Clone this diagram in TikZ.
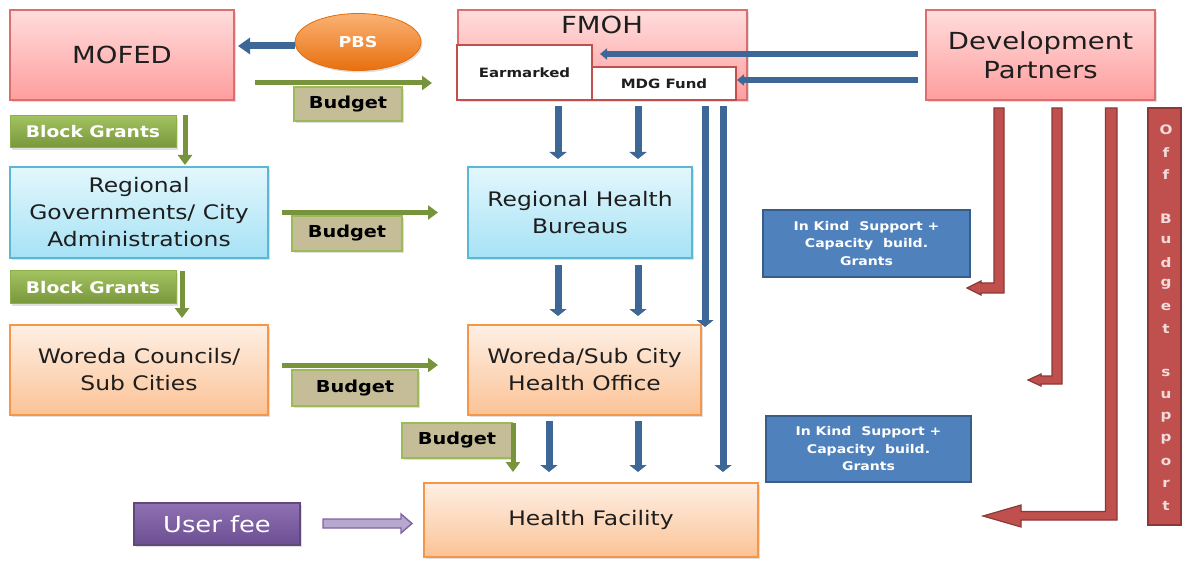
\documentclass[tikz,border=0pt]{standalone}
\usepackage{fontspec}
\setmainfont{DejaVu Sans}[FakeStretch=1.17]
\usetikzlibrary{arrows.meta,shapes.geometric,shadows,calc}

% palette
\definecolor{textdark}{HTML}{1E1E1E}
\definecolor{pinktop}{HTML}{FFDCDC}
\definecolor{pinkbot}{HTML}{FF9E9E}
\definecolor{pinkedge}{HTML}{DC6E70}
\definecolor{bluetop}{HTML}{E3F7FD}
\definecolor{bluebot}{HTML}{A6E2F5}
\definecolor{blueedge}{HTML}{5BB7D3}
\definecolor{orangetop}{HTML}{FEEFE4}
\definecolor{orangebot}{HTML}{FBC396}
\definecolor{orangeedge}{HTML}{F79646}
\definecolor{budgetfill}{HTML}{C4BD97}
\definecolor{budgetedge}{HTML}{9BBB59}
\definecolor{granttop}{HTML}{A2C15F}
\definecolor{grantbot}{HTML}{78973C}
\definecolor{grantedge}{HTML}{8DB04A}
\definecolor{greenarr}{HTML}{77933C}
\definecolor{bluearr}{HTML}{3C6797}
\definecolor{pbstop}{HTML}{FBB274}
\definecolor{pbsbot}{HTML}{E8700F}
\definecolor{pbsedge}{HTML}{E46C0A}
\definecolor{inkindfill}{HTML}{4F81BD}
\definecolor{inkindedge}{HTML}{385D8A}
\definecolor{fundedge}{HTML}{C0504D}
\definecolor{redfill}{HTML}{C0504D}
\definecolor{rededge}{HTML}{8C3836}
\definecolor{offletter}{HTML}{F2DCDB}
\definecolor{usertop}{HTML}{8E70B3}
\definecolor{userbot}{HTML}{6C4F92}
\definecolor{useredge}{HTML}{5F497A}
\definecolor{purplefill}{HTML}{B7A8CF}
\definecolor{purpleedge}{HTML}{7F64A2}

\tikzset{
  every node/.style={inner sep=0pt, outer sep=0pt},
  softshadow/.style={drop shadow={shadow xshift=1.5pt, shadow yshift=-2pt, opacity=0.25}},
  box/.style={rectangle, draw, line width=1.3pt, align=center, text=textdark, softshadow},
  pinkbox/.style={box, draw=pinkedge, top color=pinktop, bottom color=pinkbot},
  bluebox/.style={box, draw=blueedge, top color=bluetop, bottom color=bluebot},
  orangebox/.style={box, draw=orangeedge, top color=orangetop, bottom color=orangebot},
  titlefont/.style={font=\fontsize{23.5}{29}\selectfont},
  boxfont/.style={font=\fontsize{20}{27}\selectfont},
  budgetlabel/.style={rectangle, draw=budgetedge, line width=1.3pt, fill=budgetfill,
    text=black, font=\bfseries\fontsize{16.5}{19}\selectfont, softshadow},
  grantlabel/.style={rectangle, draw=grantedge, line width=1pt, top color=granttop,
    bottom color=grantbot, text=white, font=\bfseries\fontsize{16}{19}\selectfont, softshadow},
  inkind/.style={rectangle, fill=inkindfill, draw=inkindedge, line width=1.5pt, text=white,
    align=center, font=\bfseries\fontsize{12}{17.5}\selectfont},
  fundbox/.style={rectangle, fill=white, draw=fundedge, line width=2.5pt, text=textdark,
    font=\bfseries\fontsize{12.8}{15}\selectfont},
  greenarrow/.style={draw=greenarr, line width=5pt, -{Triangle[width=14pt,length=10pt]}},
  bluearrow/.style={draw=bluearr, line width=7pt, -{Triangle[width=17pt,length=7pt]}},
  dparrow/.style={draw=bluearr, line width=6pt, -{Triangle[width=11pt,length=7pt]}},
  pbsarrow/.style={draw=bluearr, line width=7pt, -{Triangle[width=16pt,length=12pt]}},
  redblock/.style={fill=redfill, draw=rededge, line width=1.2pt, line join=miter},
  purpleblock/.style={fill=purplefill, draw=purpleedge, line width=1.4pt},
}

\begin{document}
\begin{tikzpicture}[x=1pt, y=-1pt]
\useasboundingbox (0,0) rectangle (1183,561);

% ---- top row ----
\node[pinkbox, titlefont, minimum width=224pt, minimum height=90pt] (mofed) at (122,55) {MOFED};
\node[ellipse, draw=pbsedge, line width=0.8pt, top color=pbstop, bottom color=pbsbot,
      minimum width=126pt, minimum height=57pt, text=white,
      font=\bfseries\fontsize{15}{18}\selectfont, softshadow] (pbs) at (358,42) {PBS};
\node[pinkbox, minimum width=289pt, minimum height=90pt] (fmoh) at (602.5,55) {};
\node[titlefont, text=textdark] (fmohtitle) at (602,25) {FMOH};
\node[fundbox, minimum width=135pt, minimum height=55pt] (earmarked) at (524.5,72.5) {Earmarked};
\node[fundbox, minimum width=144pt, minimum height=33pt] (mdg) at (664,83.5) {MDG Fund};
\node[pinkbox, titlefont, minimum width=229pt, minimum height=90pt] (dp) at (1040.5,55) {Development\\Partners};

\node[budgetlabel, minimum width=108pt, minimum height=34pt] (budget1) at (348,104) {Budget};
\node[grantlabel, minimum width=166pt, minimum height=32pt] (bg1) at (93,132) {Block Grants};

% ---- regional level ----
\node[bluebox, boxfont, minimum width=258pt, minimum height=91pt] (regov) at (139,212.5)
  {Regional\\Governments/ City\\Administrations};
\node[bluebox, boxfont, minimum width=224pt, minimum height=91pt] (rhb) at (580,212.5)
  {Regional Health\\Bureaus};
\node[budgetlabel, minimum width=110pt, minimum height=35pt] (budget2) at (347,233.5) {Budget};
\node[grantlabel, minimum width=166pt, minimum height=33pt] (bg2) at (93,287.5) {Block Grants};

% ---- woreda level ----
\node[orangebox, boxfont, minimum width=258pt, minimum height=90pt] (woreda) at (139,370)
  {Woreda Councils/\\Sub Cities};
\node[orangebox, boxfont, minimum width=233pt, minimum height=90pt] (wsho) at (584.5,370)
  {Woreda/Sub City\\Health Office};
\node[budgetlabel, minimum width=126pt, minimum height=36pt] (budget3) at (355,388) {Budget};
\node[budgetlabel, minimum width=110pt, minimum height=35pt] (budget4) at (457,440.5) {Budget};

% ---- facility level ----
\node[orangebox, boxfont, minimum width=334pt, minimum height=74pt] (hf) at (591,520) {Health Facility};
\node[rectangle, draw=useredge, line width=1.2pt, top color=usertop, bottom color=userbot,
      text=white, font=\fontsize{22}{26}\selectfont, minimum width=166pt, minimum height=42pt,
      softshadow] (userfee) at (217,524) {User fee};

% ---- off-budget side ----
\node[inkind, minimum width=207pt, minimum height=67pt] (inkind1) at (866.5,243.5)
  {In Kind~~Support~+\\Capacity~~build.\\Grants};
\node[inkind, minimum width=205pt, minimum height=66pt] (inkind2) at (868.5,449)
  {In Kind~~Support~+\\Capacity~~build.\\Grants};
\node[rectangle, fill=redfill, draw=rededge, line width=1.5pt,
      minimum width=33pt, minimum height=417pt] (offbar) at (1164.5,316.5) {};
\foreach \ch [count=\i from 0] in {O,f,f,,B,u,d,g,e,t,,s,u,p,p,o,r,t}
  \node[text=offletter, font=\bfseries\fontsize{13}{15}\selectfont] (ob\i) at (1166,130+22.1*\i) {\ch};

% ---- budget flows (green) ----
\draw[greenarrow] ($(mofed.east |- 0,83)+(21,0)$) -- ($(fmoh.west |- 0,83)+(-26,0)$);
\draw[greenarrow] ($(regov.east)+(14,0)$) -- ($(rhb.west)+(-30,0)$);
\draw[greenarrow] ($(woreda.east |- 0,365)+(14,0)$) -- ($(wsho.west |- 0,365)+(-30,0)$);
\draw[greenarrow] (bg1.north east -| 185,0) ++(0,-1) -- ($(regov.north -| 185,0)+(0,-2)$);
\draw[greenarrow] (bg2.north east -| 182,0) -- ($(woreda.north -| 182,0)+(0,-7)$);
\draw[greenarrow] (budget4.north east -| 513,0) ++(0,-0.5) -- ($(hf.north -| 513,0)+(0,-11)$);

% ---- PBS and partner flows into the centre (blue) ----
\draw[pbsarrow] (pbs.west |- 0,46) -- ($(mofed.east |- 0,46)+(4,0)$);
\draw[dparrow] ($(dp.west |- 0,54)+(-8,0)$) -- ($(earmarked.east |- 0,54)+(8,0)$);
\draw[dparrow] ($(dp.west |- 0,80)+(-8,0)$) -- ($(mdg.east |- 0,80)+(1,0)$);

% ---- earmarked funds down the system (blue) ----
\foreach \xx in {558,638}
  \draw[bluearrow] ($(fmoh.south -| \xx,0)+(0,6)$) -- ($(rhb.north -| \xx,0)+(0,-8)$);
\draw[bluearrow] ($(fmoh.south -| 705,0)+(0,6)$) -- ($(wsho.north -| 705,0)+(0,2)$);
\draw[bluearrow] ($(fmoh.south -| 723,0)+(0,6)$) -- ($(hf.north -| 723,0)+(0,-11)$);
\foreach \xx in {558,638}
  \draw[bluearrow] ($(rhb.south -| \xx,0)+(0,7)$) -- ($(wsho.north -| \xx,0)+(0,-9)$);
\foreach \xx in {549,638}
  \draw[bluearrow] ($(wsho.south -| \xx,0)+(0,6)$) -- ($(hf.north -| \xx,0)+(0,-11)$);

% ---- user fees ----
\draw[purpleblock] (323,519) -- (401,519) -- (401,514) -- (412,523.5) -- (401,533)
  -- (401,528) -- (323,528) -- cycle;

% ---- off-budget support from partners (red block arrows) ----
\draw[redblock] (994,108) -- (1004,108) -- (1004,293) -- (981,293) -- (981,295) -- (967,288)
  -- (981,281) -- (981,283) -- (994,283) -- cycle;
\draw[redblock] (1052,108) -- (1062,108) -- (1062,384) -- (1041,384) -- (1041,386) -- (1028,380)
  -- (1041,374) -- (1041,376) -- (1052,376) -- cycle;
\draw[redblock] (1105.5,108) -- (1117,108) -- (1117,520) -- (1021,520) -- (1021,527) -- (983,516)
  -- (1021,505) -- (1021,511.5) -- (1105.5,511.5) -- cycle;
\end{tikzpicture}
\end{document}
